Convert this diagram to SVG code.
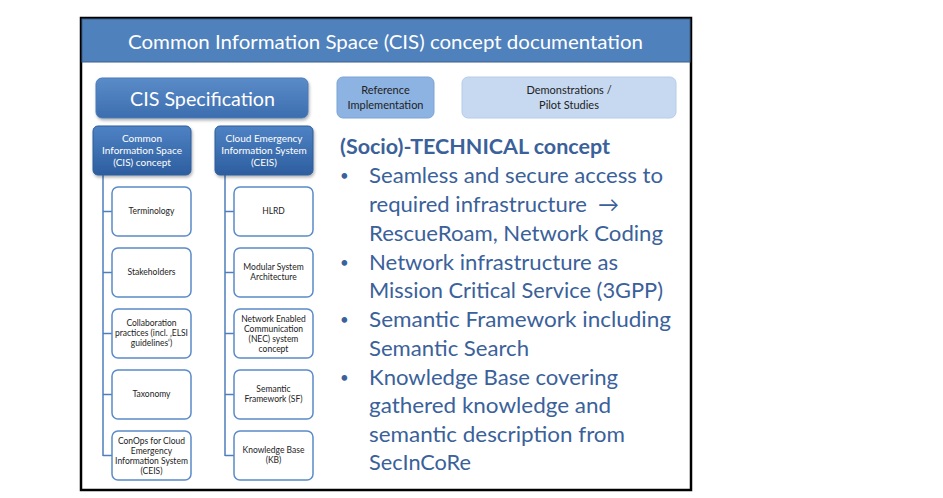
<svg xmlns="http://www.w3.org/2000/svg" width="943" height="498" viewBox="0 0 943 498">
<defs>
<linearGradient id="gSpec" x1="0" y1="0" x2="0" y2="1"><stop offset="0" stop-color="#5B8CC9"/><stop offset="1" stop-color="#3C6DAE"/></linearGradient>
<linearGradient id="gHead" x1="0" y1="0" x2="0" y2="1"><stop offset="0" stop-color="#4E82C4"/><stop offset="1" stop-color="#2D5E9F"/></linearGradient>
<filter id="sh" x="-10%" y="-10%" width="130%" height="140%"><feDropShadow dx="1" dy="2" stdDeviation="1.5" flood-color="#000" flood-opacity="0.3"/></filter>
</defs>
<style>
text{font-family:Lato,"Open Sans","Noto Sans",sans-serif}
.child{fill:#fff;stroke:#5B8BC8;stroke-width:1.5}
.ct{font-size:8.5px;fill:#222;text-anchor:middle}
.ht{font-size:10px;fill:#fff;text-anchor:middle}
.line{stroke:#4F7FBA;stroke-width:1.5;fill:none}
.bt{font-size:21px;fill:#3A619A}
.bul{font-size:15px;fill:#3A619A}
.tt{font-size:11px;fill:#222;text-anchor:middle}
</style>
<rect width="943" height="498" fill="#fff"/>
<rect x="81" y="18" width="610" height="472" fill="#fff" stroke="#000" stroke-width="2.5"/>
<g id="title">
<rect x="82" y="19" width="608" height="43" fill="#4F81BD" stroke="#3B5F8A" stroke-width="1"/>
<text x="128" y="49" font-size="20" fill="#fff" textLength="515" lengthAdjust="spacingAndGlyphs">Common Information Space (CIS) concept documentation</text>
</g>
<g id="connectors">
<path class="line" d="M103 175V456M103 211.5H112M103 272.5H112M103 333.5H112M103 394.5H112M103 455.5H112"/>
<path class="line" d="M225 175V456M225 211.5H234M225 272.5H234M225 333.5H234M225 394.5H234M225 455.5H234"/>
</g>
<g id="cis-spec">
<rect x="96" y="78" width="212" height="40" rx="6" fill="url(#gSpec)" stroke="#4A7AB8" filter="url(#sh)"/>
<text x="130" y="106" font-size="20" fill="#fff" textLength="145" lengthAdjust="spacingAndGlyphs">CIS Specification</text>
</g>
<g id="ref-impl">
<rect x="337" y="77" width="97" height="41" rx="6" fill="#8DB3E2" stroke="#7AA3D6"/>
<text class="tt" x="385.5" y="94">Reference</text>
<text class="tt" x="385.5" y="109">Implementation</text>
</g>
<g id="demos">
<rect x="462" y="77" width="214" height="41" rx="6" fill="#C6D9F1" stroke="#B6CCE8"/>
<text class="tt" x="569" y="94">Demonstrations /</text>
<text class="tt" x="569" y="109">Pilot Studies</text>
</g>
<g id="cis-concept">
<rect x="93" y="126" width="98" height="49" rx="5" fill="url(#gHead)" stroke="#2E5C99" filter="url(#sh)"/>
<text class="ht" x="142" y="142">Common</text>
<text class="ht" x="142" y="154">Information Space</text>
<text class="ht" x="142" y="166">(CIS) concept</text>
</g>
<g id="ceis">
<rect x="215" y="126" width="98" height="49" rx="5" fill="url(#gHead)" stroke="#2E5C99" filter="url(#sh)"/>
<text class="ht" x="264" y="142">Cloud Emergency</text>
<text class="ht" x="264" y="154">Information System</text>
<text class="ht" x="264" y="166">(CEIS)</text>
</g>
<g id="terminology"><rect class="child" x="112" y="187" width="79" height="49" rx="6"/><text class="ct" x="151.5" y="214">Terminology</text></g>
<g id="stakeholders"><rect class="child" x="112" y="248" width="79" height="49" rx="6"/><text class="ct" x="151.5" y="275">Stakeholders</text></g>
<g id="collaboration"><rect class="child" x="112" y="309" width="79" height="49" rx="6"/><text class="ct" x="151.5" y="326">Collaboration</text><text class="ct" x="151.5" y="336">practices (incl. ‚ELSI</text><text class="ct" x="151.5" y="346">guidelines‘)</text></g>
<g id="taxonomy"><rect class="child" x="112" y="370" width="79" height="49" rx="6"/><text class="ct" x="151.5" y="397">Taxonomy</text></g>
<g id="conops"><rect class="child" x="112" y="431" width="79" height="49" rx="6"/><text class="ct" x="151.5" y="444">ConOps for Cloud</text><text class="ct" x="151.5" y="454">Emergency</text><text class="ct" x="151.5" y="464">Information System</text><text class="ct" x="151.5" y="474">(CEIS)</text></g>
<g id="hlrd"><rect class="child" x="234" y="187" width="79" height="49" rx="6"/><text class="ct" x="273.5" y="214">HLRD</text></g>
<g id="modular"><rect class="child" x="234" y="248" width="79" height="49" rx="6"/><text class="ct" x="273.5" y="270">Modular System</text><text class="ct" x="273.5" y="280">Architecture</text></g>
<g id="nec"><rect class="child" x="234" y="309" width="79" height="49" rx="6"/><text class="ct" x="273.5" y="322">Network Enabled</text><text class="ct" x="273.5" y="332">Communication</text><text class="ct" x="273.5" y="342">(NEC) system</text><text class="ct" x="273.5" y="352">concept</text></g>
<g id="sf"><rect class="child" x="234" y="370" width="79" height="49" rx="6"/><text class="ct" x="273.5" y="392">Semantic</text><text class="ct" x="273.5" y="402">Framework (SF)</text></g>
<g id="kb"><rect class="child" x="234" y="431" width="79" height="49" rx="6"/><text class="ct" x="273.5" y="453">Knowledge Base</text><text class="ct" x="273.5" y="463">(KB)</text></g>
<g id="technical">
<text x="340" y="154" font-size="21" font-weight="bold" fill="#3A619A" textLength="270" lengthAdjust="spacingAndGlyphs">(Socio)-TECHNICAL concept</text>
<g class="bul">
<text x="340" y="181">•</text>
<text x="340" y="268">•</text>
<text x="340" y="325">•</text>
<text x="340" y="383">•</text>
</g>
<g class="bt">
<text x="369" y="183" textLength="294" lengthAdjust="spacingAndGlyphs">Seamless and secure access to</text>
<text x="369" y="212" textLength="218" lengthAdjust="spacingAndGlyphs">required infrastructure</text>
<text x="598" y="212">→</text>
<text x="369" y="241" textLength="294" lengthAdjust="spacingAndGlyphs">RescueRoam, Network Coding</text>
<text x="369" y="270" textLength="249" lengthAdjust="spacingAndGlyphs">Network infrastructure as</text>
<text x="369" y="298" textLength="294" lengthAdjust="spacingAndGlyphs">Mission Critical Service (3GPP)</text>
<text x="369" y="327" textLength="302" lengthAdjust="spacingAndGlyphs">Semantic Framework including</text>
<text x="369" y="356" textLength="160" lengthAdjust="spacingAndGlyphs">Semantic Search</text>
<text x="369" y="385" textLength="249" lengthAdjust="spacingAndGlyphs">Knowledge Base covering</text>
<text x="369" y="413" textLength="242" lengthAdjust="spacingAndGlyphs">gathered knowledge and</text>
<text x="369" y="442" textLength="256" lengthAdjust="spacingAndGlyphs">semantic description from</text>
<text x="369" y="470" textLength="102" lengthAdjust="spacingAndGlyphs">SecInCoRe</text>
</g>
</g>
</svg>
